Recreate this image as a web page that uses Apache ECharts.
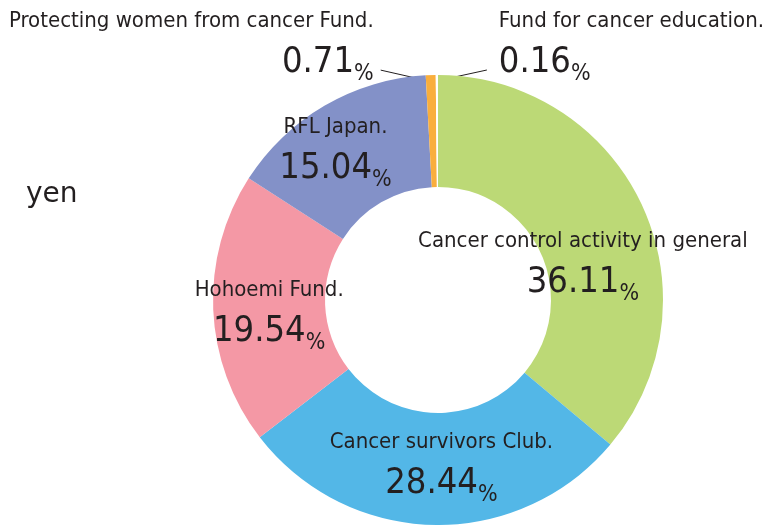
<!DOCTYPE html>
<html>
<head>
<meta charset="utf-8">
<script src="https://cdn.jsdelivr.net/npm/echarts@6/dist/echarts.min.js"></script>
<style>
html,body{margin:0;padding:0;background:#fff;}
#main{width:766px;height:525px;}
</style>
</head>
<body>
<div id="main"></div>
<script>
const categories = [
  'Cancer control activity in general',
  'Cancer survivors Club.',
  'Hohoemi Fund.',
  'RFL Japan.',
  'Protecting women from cancer Fund.',
  'Fund for cancer education.'
];
const values = [36.11, 28.44, 19.54, 15.04, 0.71, 0.16];
const colors = ['#BCD976', '#53B7E7', '#F498A5', '#8391C8', '#F9AE3D', '#FFFFFF'];
const unitLabel = 'yen';

const FONT = '"Liberation Sans Narrow", "DejaVu Sans Condensed", "Arial Narrow", sans-serif';
const TXT = '#231F20';

const chart = echarts.init(document.getElementById('main'), null, {renderer: 'canvas'});

const rich = {
  t: {fontFamily: FONT, fontSize: 22, color: TXT, lineHeight: 37},
  v: {fontFamily: FONT, fontSize: 36, color: TXT, lineHeight: 46},
  p: {fontFamily: FONT, fontSize: 23, color: TXT, lineHeight: 46, verticalAlign: 'bottom'}
};

// label offsets relative to library-computed label anchor (layout only)
const insideShift = [[-11, 37], [7, -7], [3, 6], [-16, -1]];

const data = categories.map((name, i) => {
  const outside = i >= 4;
  return {
    name: name,
    value: values[i],
    itemStyle: {color: colors[i]},
    label: outside ? {
      position: 'outside',
      align: i === 4 ? 'right' : 'left'
    } : {position: 'inside'},
    labelLine: {show: outside, lineStyle: {color: TXT, width: 1}}
  };
});

chart.setOption({
  backgroundColor: '#fff',
  animation: false,
  title: {
    text: unitLabel,
    left: 21,
    top: 176,
    textStyle: {fontFamily: '"DejaVu Sans", sans-serif', fontSize: 28, fontWeight: 'normal', color: TXT}
  },
  series: [{
    type: 'pie',
    center: [438, 300],
    radius: [113, 225],
    startAngle: 90,
    clockwise: true,
    avoidLabelOverlap: false,
    itemStyle: {borderWidth: 0},
    label: {
      show: true,
      formatter: p => '{t|' + p.name + '}\n{v|' + p.value.toFixed(2) + '}{p|%}',
      rich: rich
    },
    labelLine: {length: 10, length2: 20},
    labelLayout: function (params) {
      const i = params.dataIndex;
      if (i < 4) {
        return {dx: insideShift[i][0], dy: insideShift[i][1]};
      }
      const pts = params.labelLinePoints;
      const p0 = pts ? pts[0] : [438, 75];
      const start = [p0[0] - (i === 4 ? 1.5 : 0.5), p0[1] + 6];
      if (i === 4) {
        const x = p0[0] - 57;
        const y = p0[1] - 31;
        return {
          x: x, y: y, align: 'right', verticalAlign: 'middle',
          labelLinePoints: [start, [x + 7, p0[1] - 5], [x + 7, p0[1] - 5]]
        };
      } else {
        const x = p0[0] + 62;
        const y = p0[1] - 31;
        return {
          x: x, y: y, align: 'left', verticalAlign: 'middle',
          labelLinePoints: [start, [x - 12, p0[1] - 5], [x - 12, p0[1] - 5]]
        };
      }
    },
    data: data
  }]
});
</script>
</body>
</html>
